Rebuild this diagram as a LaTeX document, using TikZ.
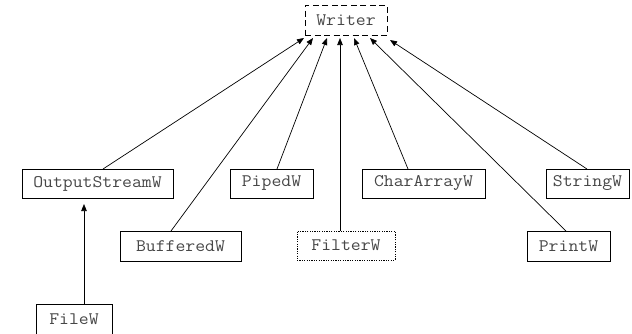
\documentclass[tikz,border=0pt]{standalone}
\usepackage{fontspec}
\setmonofont[FakeStretch=1.09]{Latin Modern Mono}
\usetikzlibrary{arrows.meta}
\begin{document}
\begin{tikzpicture}[x=1pt,y=-1pt,
  cls/.style={draw=black, line width=0.9pt, inner sep=0pt, minimum height=29pt,
    font=\fontsize{17.6}{19}\ttfamily, text=black!72},
  abs/.style={cls, dash pattern=on 6pt off 3.5pt},
  flt/.style={cls, dash pattern=on 1.2pt off 1.2pt},
  inh/.style={draw=black, line width=0.7pt, -{Triangle[length=7pt,width=5.5pt]}}]
\useasboundingbox (0,0) rectangle (632,333);
\node[abs, minimum width=82pt, minimum height=30pt] (writer) at (346,20) {Writer};
\node[cls, minimum width=151pt] (osw) at (97.5,183.5) {OutputStreamW};
\node[cls, minimum width=83pt] (piped) at (271.5,183.5) {PipedW};
\node[cls, minimum width=123pt] (chararr) at (423.5,183.5) {CharArrayW};
\node[cls, minimum width=83pt] (string) at (587.5,183.5) {StringW};
\node[cls, minimum width=121pt, minimum height=30pt] (buffered) at (180.5,246) {BufferedW};
\node[flt, minimum width=98pt] (filter) at (346,245.5) {FilterW};
\node[cls, minimum width=83pt, minimum height=30pt] (print) at (568.5,246) {PrintW};
\node[cls, minimum width=76pt, minimum height=30pt] (file) at (74,319) {FileW};
% start points on child boxes
\coordinate (s1) at (103,169);
\coordinate (s2) at (171,231);
\coordinate (s3) at (277,169);
\coordinate (s4) at (340,231);
\coordinate (s5) at (408,169);
\coordinate (s6) at (566,231);
\coordinate (s7) at (587,169);
\coordinate (s8) at (84,304);
% tip points near Writer
\coordinate (t1) at (304,38);
\coordinate (t2) at (313,38);
\coordinate (t3) at (327,38);
\coordinate (t4) at (340,38);
\coordinate (t5) at (354,38);
\coordinate (t6) at (370,38);
\coordinate (t7) at (390,40);
\coordinate (t8) at (84,204);
\draw[inh] (s1) -- (t1);
\draw[inh] (s2) -- (t2);
\draw[inh] (s3) -- (t3);
\draw[inh] (s4) -- (t4);
\draw[inh] (s5) -- (t5);
\draw[inh] (s6) -- (t6);
\draw[inh] (s7) -- (t7);
\draw[inh] (s8) -- (t8);
\end{tikzpicture}
\end{document}
